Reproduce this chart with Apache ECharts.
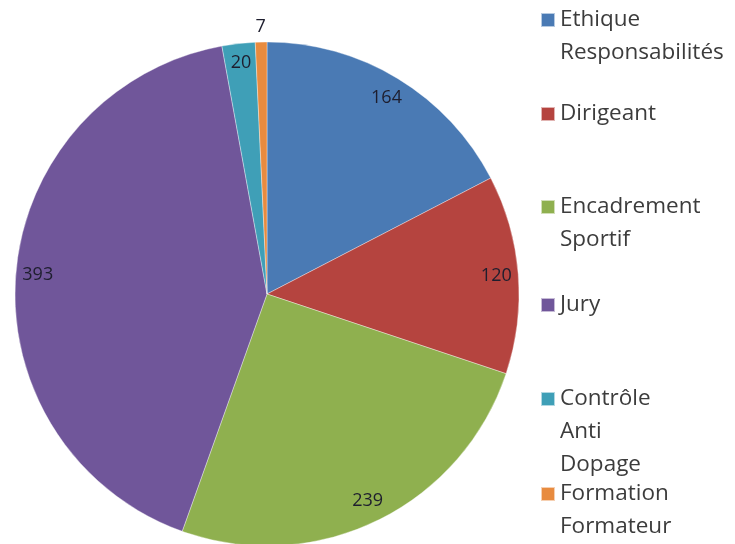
<!DOCTYPE html>
<html>
<head>
<meta charset="utf-8">
<script src="https://cdn.jsdelivr.net/npm/echarts@6/dist/echarts.min.js"></script>
<style>
  html, body { margin: 0; padding: 0; background: #fff; }
  #chart { width: 735px; height: 544px; }
</style>
</head>
<body>
<div id="chart"></div>
<script>
// categories + values
var categories = [
  "Ethique Responsabilités",
  "Dirigeant",
  "Encadrement Sportif",
  "Jury",
  "Contrôle Anti Dopage",
  "Formation Formateur"
];
var values = [164, 120, 239, 393, 20, 7];
var colors = ["#4a7ab4", "#b5443f", "#8fb04f", "#70569a", "#3f9fb7", "#e88b3f"];

// layout stuff
var legendIconY = [20, 114, 207, 305, 399, 494];
var lineH = 33;
var iconSize = 14;
var fontFamily = "'Open Sans', sans-serif";

var chart = echarts.init(document.getElementById("chart"), null, { renderer: "canvas" });

var pieData = categories.map(function (name, i) {
  return { name: name, value: values[i], itemStyle: { color: colors[i] } };
});

// second, transparent pie just to place the value labels near the rim
var labelData = categories.map(function (name, i) {
  var item = { name: name, value: values[i] };
  if (values[i] < 10) {
    item.label = { offset: [-1, -37] };
  } else if (values[i] < 30) {
    item.label = { offset: [0, -3] };
  }
  return item;
});

// one legend per entry so the icon can sit on the first line of a wrapped name
var legends = categories.map(function (name, i) {
  var n = name.split(" ").length;
  return {
    orient: "vertical",
    left: 540,
    top: legendIconY[i] - (2 * n - 1) * lineH / 2,
    padding: 0,
    itemWidth: iconSize,
    itemHeight: iconSize,
    itemGap: 0,
    selectedMode: false,
    icon: "rect",
    formatter: function (s) {
      var words = s.split(" ");
      var pad = "";
      for (var k = 1; k < words.length; k++) pad += " \n";
      return pad + words.join("\n");
    },
    textStyle: {
      fontFamily: fontFamily,
      fontSize: 22.5,
      color: "#3c3c3c",
      lineHeight: lineH
    },
    data: [{ name: name, itemStyle: { color: colors[i] } }]
  };
});

chart.setOption({
  backgroundColor: "#fff",
  animation: false,
  legend: legends,
  series: [
    {
      type: "pie",
      center: [267, 294],
      radius: [0, 252],
      startAngle: 90,
      clockwise: true,
      label: { show: false },
      labelLine: { show: false },
      itemStyle: { borderColor: "rgba(255,255,255,0.6)", borderWidth: 0.6 },
      emphasis: { disabled: true },
      data: pieData
    },
    {
      type: "pie",
      center: [267, 294],
      radius: [202, 252],
      startAngle: 90,
      clockwise: true,
      silent: true,
      legendHoverLink: false,
      itemStyle: { color: "rgba(0,0,0,0)" },
      label: {
        show: true,
        position: "inside",
        formatter: "{c}",
        fontFamily: fontFamily,
        fontSize: 18,
        color: "#1e1e2e"
      },
      labelLine: { show: false },
      emphasis: { disabled: true },
      data: labelData
    }
  ]
});
</script>
</body>
</html>
